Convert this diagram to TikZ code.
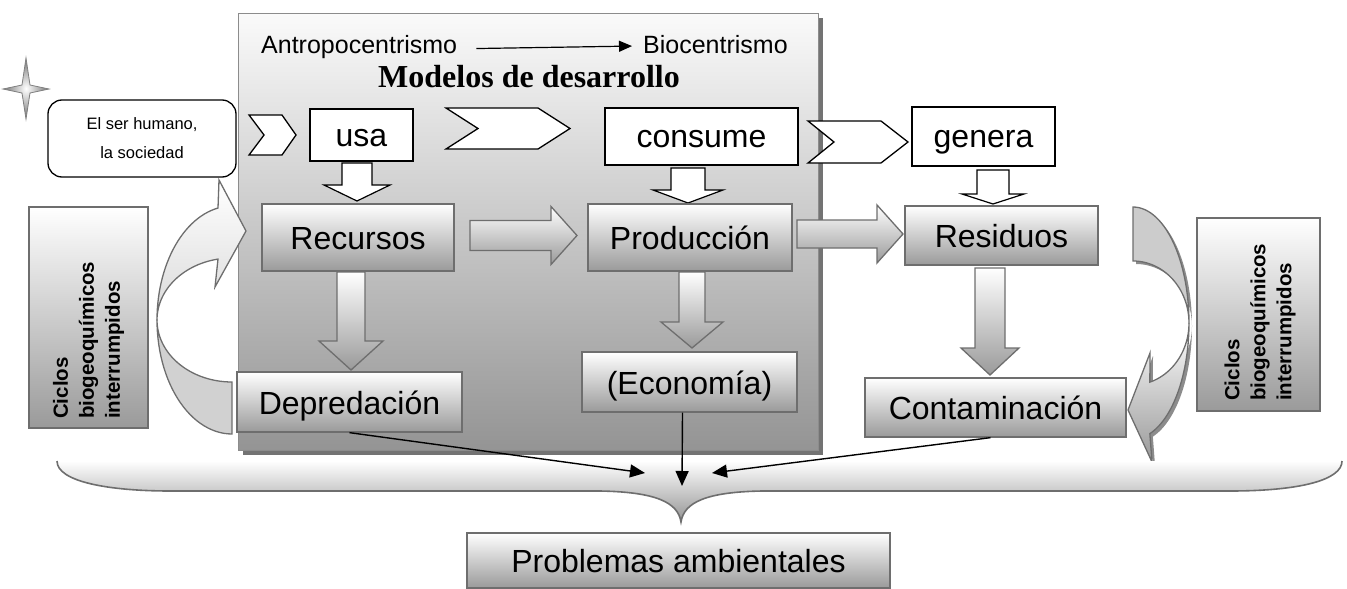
\documentclass[tikz,border=0pt]{standalone}
\usepackage{fontspec}
\setmainfont{Liberation Sans}
\newfontfamily\timesb{Liberation Serif}
\usetikzlibrary{arrows.meta}
\definecolor{bord}{HTML}{6E6E6E}
\definecolor{gbot}{HTML}{9A9A9A}
\newcommand\BoxFont{\fontsize{32}{38}\selectfont}
% block arrow pointing down: style, cx, shaft half, head half, ytop, ybase, ytip
\newcommand\BlockDown[7]{\path[#1] ({#2-#3},#5) -- ({#2+#3},#5) -- ({#2+#3},#6) -- ({#2+#4},#6) -- (#2,#7) -- ({#2-#4},#6) -- ({#2-#3},#6) -- cycle;}
% block arrow pointing right: style, xstart, xbase, xtip, ymid, shaft half, head half
\newcommand\BlockRight[7]{\path[#1] (#2,{#5-#6}) -- (#3,{#5-#6}) -- (#3,{#5-#7}) -- (#4,#5) -- (#3,{#5+#7}) -- (#3,{#5+#6}) -- (#2,{#5+#6}) -- cycle;}
\begin{document}
\begin{tikzpicture}[x=1pt,y=-1pt,
  gbox/.style={draw=bord, line width=1.3pt, top color=white, bottom color=gbot, inner sep=0pt, font=\BoxFont, text height=24pt, text depth=0pt},
  wbox/.style={draw=black, line width=1.3pt, fill=white, inner sep=0pt, font=\BoxFont, text height=22pt, text depth=0pt},
  warrow/.style={draw=black, line width=1.2pt, fill=white},
  garrow/.style={draw=bord, line width=1.3pt, top color=white, bottom color=gbot},
  chev/.style={draw=black, line width=1.3pt, fill=white},
  conn/.style={draw=black, line width=1.4pt, -{Triangle[length=15pt,width=13pt]}},
  ciclo/.style={rotate=90, anchor=west, align=left, inner sep=0pt, font=\bfseries\fontsize{20.5}{26}\selectfont}]
\useasboundingbox (0,0) rectangle (1347,589);

% panel
\fill[black!55] (243,18) rectangle (823,455);
\node[draw=black!45, line width=1.3pt, top color=black!2, bottom color=black!42,
      minimum width=580pt, minimum height=437pt, anchor=north west, inner sep=0pt] (panel) at (238,13) {};

\node[anchor=base west, inner sep=0pt, font=\fontsize{25}{30}\selectfont] (ant) at (261,53) {Antropocentrismo};
\node[anchor=base west, inner sep=0pt, font=\fontsize{25}{30}\selectfont] (bio) at (643,53) {Biocentrismo};
\draw[line width=1.2pt, -{Triangle[length=13pt,width=11pt]}] ([xshift=19pt,yshift=-2pt]ant.east) -- ([xshift=-11pt,yshift=-2pt]bio.west);
\node[font=\timesb\bfseries\fontsize{32}{38}\selectfont, inner sep=0pt] (mod) at (529,77) {Modelos de desarrollo};

% star
\shade[inner color=white, outer color=black!55, draw=black!50, line width=0.8pt]
  (26,58) -- (30,85) -- (49,89) -- (30,93) -- (26,119) -- (22,93) -- (3,89) -- (22,85) -- cycle;

% left curved arrow
\path[draw=bord, line width=1.3pt, fill=black!18]
  plot[domain=90:180, samples=30] ({232+75*cos(\x)},{320+114*sin(\x)})
  -- plot[domain=180:90, samples=30] ({232+75*cos(\x)},{320+62*sin(\x)}) -- cycle;
\path[draw=bord, line width=1.3pt, top color=white, bottom color=black!15]
  plot[domain=180:259.24, samples=30] ({232+75*cos(\x)},{320+114*sin(\x)})
  -- (219,180) -- (246,231) -- (215,287)
  -- plot[domain=259.24:180, samples=30] ({232+75*cos(\x)},{320+62*sin(\x)}) -- cycle;

% right curved arrow (shadow then shape)
\begin{scope}[shift={(3,3)}]
\fill[black!45]
  plot[domain=270:360, samples=30] ({1133+56*cos(\x)},{323+116*sin(\x)})
  -- plot[domain=0:72.5, samples=30] ({1133+56*cos(\x)},{323+116*sin(\x)})
  -- (1152,462) -- (1128,410) -- (1150,353)
  -- plot[domain=72.5:0, samples=30] ({1133+56*cos(\x)},{323+62*sin(\x)})
  -- plot[domain=360:270, samples=30] ({1133+56*cos(\x)},{323+62*sin(\x)}) -- cycle;
\end{scope}
\path[draw=bord, line width=1.3pt, fill=black!20]
  plot[domain=270:360, samples=30] ({1133+56*cos(\x)},{323+116*sin(\x)})
  -- plot[domain=360:270, samples=30] ({1133+56*cos(\x)},{323+62*sin(\x)}) -- cycle;
\path[draw=bord, line width=1.3pt, top color=white, bottom color=black!40]
  plot[domain=0:72.5, samples=30] ({1133+56*cos(\x)},{323+116*sin(\x)})
  -- (1152,462) -- (1128,410) -- (1150,353)
  -- plot[domain=72.5:0, samples=30] ({1133+56*cos(\x)},{323+62*sin(\x)}) -- cycle;

% brace
\shade[top color=white, bottom color=black!42]
  (57,461) .. controls (57,482) and (110,491) .. (170,491) -- (600,491)
  .. controls (655,492) and (678,502) .. (681,522)
  .. controls (684,502) and (707,492) .. (762,491) -- (1230,491)
  .. controls (1300,491) and (1342,480) .. (1342,461) -- cycle;
\draw[bord, line width=1.6pt]
  (57,461) .. controls (57,482) and (110,491) .. (170,491) -- (600,491)
  .. controls (655,492) and (678,502) .. (681,522)
  .. controls (684,502) and (707,492) .. (762,491) -- (1230,491)
  .. controls (1300,491) and (1342,480) .. (1342,461);
\coordinate (bL) at (645,473);
\coordinate (bC) at (682,486);
\coordinate (bR) at (712,473);

% left box and ciclos
\node[draw=black, line width=1.3pt, fill=white, rounded corners=14pt, font=\fontsize{16.5}{29}\selectfont, align=center,
      minimum width=188pt, minimum height=77pt, inner sep=0pt] (hum) at (142,138.5) {El ser humano,\\la sociedad};
\node[gbox, minimum width=119pt, minimum height=221pt] (cl) at (88.5,317.5) {};
\node[ciclo] (clt) at (88.5,419) {Ciclos\\biogeoquímicos\\interrumpidos};
\node[gbox, minimum width=123pt, minimum height=193pt] (cr) at (1258.5,314.5) {};
\node[ciclo] (crt) at (1260,401) {Ciclos\\biogeoquímicos\\interrumpidos};

% chevrons
\path[chev] (249,115) -- (282,115) -- (296,135) -- (282,155) -- (249,155) -- (264,135) -- cycle;
\path[chev] (446,108) -- (538,108) -- (570,128.5) -- (538,149) -- (446,149) -- (478,128.5) -- cycle;
\path[chev] (808,121) -- (881,121) -- (908,142) -- (881,163) -- (808,163) -- (834,142) -- cycle;

% top white boxes
\node[wbox, minimum width=103pt, minimum height=52pt] (usa) at (361.5,135) {usa};
\node[wbox, minimum width=193pt, minimum height=57pt] (con) at (701.5,136.5) {consume};
\node[wbox, minimum width=143pt, minimum height=59pt] (gen) at (983.5,136.5) {genera};

% small white arrows
\BlockDown{warrow}{357}{15}{33}{163}{185}{201}
\BlockDown{warrow}{688}{17}{35}{168}{190}{203}
\BlockDown{warrow}{993}{16}{31}{170}{194}{204}

% gradient boxes
\node[gbox, minimum width=192pt, minimum height=67pt] (rec) at (358,237.5) {Recursos};
\node[gbox, minimum width=204pt, minimum height=67pt] (pro) at (690,237.5) {Producción};
\node[gbox, minimum width=193pt, minimum height=59pt] (res) at (1001.5,235.5) {Residuos};
\node[gbox, minimum width=225pt, minimum height=60pt] (dep) at (349.5,402) {Depredación};
\node[gbox, minimum width=215pt, minimum height=60pt] (eco) at (689.5,382) {(Economía)};
\node[gbox, minimum width=261pt, minimum height=59pt] (cont) at (995.5,407.5) {Contaminación};
\node[gbox, minimum width=423pt, minimum height=55pt] (prob) at (678.5,560.5) {Problemas ambientales};

% gradient block arrows
\BlockRight{garrow}{470}{551}{577}{235.5}{15}{29}
\BlockRight{garrow}{797}{877}{903}{234}{14}{29}
\BlockDown{garrow}{351}{14}{32}{272}{341}{370}
\BlockDown{garrow}{692}{13}{31}{272}{322}{348}
\BlockDown{garrow}{990}{15}{29}{268}{348}{375}

% connectors to the brace
\draw[conn] (dep.south) -- (bL);
\draw[conn] ([xshift=-7pt]eco.south) -- (bC);
\draw[conn] ([xshift=-5pt]cont.south) -- (bR);
\end{tikzpicture}
\end{document}
